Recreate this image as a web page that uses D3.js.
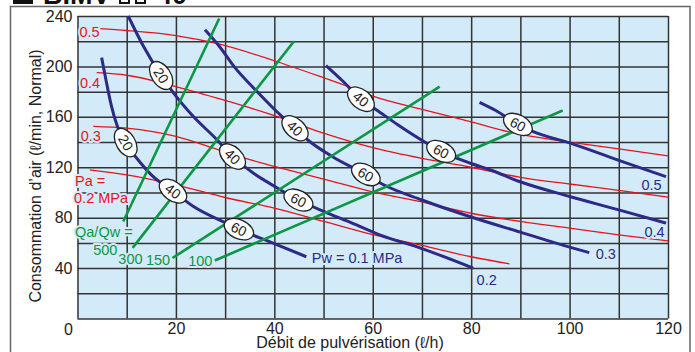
<!DOCTYPE html>
<html lang="fr">
<head>
<meta charset="UTF-8"/>
<title>BIMV – Consommation d'air</title>
<style>
  * { margin:0; padding:0; box-sizing:border-box }
  body { background:#fff; font-family:'Liberation Sans',Arial,sans-serif; }
  svg { display:block; }
  .axis text { font-size:16px; fill:#222; font-family:'Liberation Sans',Arial,sans-serif; }
  .axis line { stroke:#333; stroke-width:1.5; }
  .axis path { stroke:none; }
  .lbl { font-size:14.5px; paint-order:stroke; stroke:#d3ebf9; stroke-width:4; stroke-linejoin:round; }
</style>
</head>
<body>
<svg id="chart" width="695" height="352"></svg>

<script src="https://d3js.org/d3.v7.min.js"></script>
<script>
// ── Air pressure curves Pa (red) : [water flow ℓ/h, air ℓ/min]
const pa05 = [[4.5,230],[10,228.5],[20,224.5],[28.5,218],[40,204.5],[50,191],[55,184],[60,176.5],[70,166],[80,156],[90,146],[100,140],[110,134.5],[120,129]];
const pa04 = [[3.9,195],[10,193],[20,184],[30,173],[40,161],[50,147],[60,135.5],[70,127],[80,120],[90,112],[100,106.7],[110,101.6],[120,96.3]];
const pa03 = [[3.2,152.5],[10,151],[20,144.5],[28.5,134],[35,126],[40,120.7],[50,110.6],[60,100.5],[70,92.5],[80,83.5],[90,77],[100,71.7],[110,66.4],[120,61.6]];
const pa02 = [[2.5,118],[10,114],[20,106],[30,96],[40,87.5],[50,77],[60,66.5],[70,58],[80,49],[87.8,43.3]];

// ── Water pressure curves Pw (blue)
const pw01 = [[4.9,207],[5.9,187],[6.9,168.5],[8.1,152.5],[9.8,139.5],[12.7,124],[15,114],[19.5,100.8],[23.5,89],[30,76],[33,70.5],[39,61],[46.5,49]];
const pw02 = [[10.3,240],[13.4,216],[17.1,192.2],[19.5,179],[23.5,160.4],[28.3,142],[31.5,128.5],[35.5,116],[40,105],[44.9,94],[50,85],[55,77],[61.4,66.4],[70,55.5],[80.4,40]];
const pw03 = [[25.9,229],[29,215],[32,199],[36,182],[40,166],[44.2,151],[47,141],[52,128],[58.5,114.5],[62,106.5],[70,94],[80,80.5],[90,68.5],[100,56.6],[104,52.3]];
const pw04 = [[50.5,200.7],[54,188],[57.6,174],[60.7,165.7],[65,154],[70.9,139.3],[73.9,132.6],[80,123],[83.8,118],[89.8,108.7],[100,96.8],[110,86.2],[119.6,75.7]];
const pw05 = [[81.7,171.5],[85,165],[89.5,154],[92.5,148.5],[100,139.3],[110,125.5],[119.6,112.5]];

// ── Qa/Qw ratio lines (green), end points
const qr500 = [[9.3,77],[28.8,238]];
const qr300 = [[11.2,56],[44,220]];
const qr150 = [[19.3,48],[73.6,184]];
const qr100 = [[27.9,46],[98.6,165]];

// ── Ovals on the Pw curves: [curve, water flow at oval, label]
const ovals = [
  ["0.1",9.8,"20"],["0.1",19.4,"40"],["0.1",32.8,"60"],
  ["0.2",17.0,"20"],["0.2",31.5,"40"],["0.2",44.9,"60"],
  ["0.3",44.2,"40"],["0.3",58.6,"60"],
  ["0.4",57.6,"40"],["0.4",73.9,"60"],
  ["0.5",89.5,"60"]
];

const xTicks = [20,40,60,80,100,120];
const yTicks = [40,80,120,160,200,240];

// ── Setup
const svg = d3.select("#chart");
const x = d3.scaleLinear([0,120],[77.5,668]);
const y = d3.scaleLinear([0,240],[318.5,16]);

const RED = "#e5141c", BLUE = "#2c2a86", GREEN = "#0c9645", BG = "#d3ebf9";

// title (mostly cut off at the top)
svg.append("rect").attr("x",13).attr("y",-16).attr("width",20).attr("height",20).attr("fill","#111");
svg.append("text").attr("x",43).attr("y",4).attr("font-size",27).attr("font-weight","bold").attr("fill","#111").text("BIMV");
[120,136].forEach(v=>svg.append("rect").attr("x",v).attr("y",-16).attr("width",9).attr("height",19)
  .attr("fill","none").attr("stroke","#111").attr("stroke-width",2));
svg.append("text").attr("x",157).attr("y",4).attr("font-size",27).attr("font-weight","bold").attr("fill","#111").text("40");

// outer frame
svg.append("rect").attr("x",10.5).attr("y",6.5).attr("width",679.5).attr("height",400)
  .attr("fill","none").attr("stroke","#666").attr("stroke-width",1.5);

// plot background
svg.append("rect").attr("x",x(0)).attr("y",y(240)).attr("width",x(120)-x(0)).attr("height",y(0)-y(240)).attr("fill",BG);

// grid + tick labels through the axes
svg.append("g").attr("class","axis").attr("transform",`translate(0,${y(0)})`)
  .call(d3.axisBottom(x).tickValues(d3.range(0,121,10)).tickSize(-(y(0)-y(240))).tickPadding(4.5)
    .tickFormat(d => xTicks.includes(d) ? d : ""));
svg.append("g").attr("class","axis").attr("transform",`translate(${x(0)},0)`)
  .call(d3.axisLeft(y).tickValues(d3.range(0,241,20)).tickSize(-(x(120)-x(0))).tickPadding(5)
    .tickFormat(d => yTicks.includes(d) ? d : ""));
svg.append("text").attr("x",x(0)-4.5).attr("y",y(0)+16).attr("text-anchor","end")
  .attr("font-size",16).attr("fill","#222").text("0");

// axis titles
svg.append("text").attr("x",350).attr("y",348).attr("text-anchor","middle")
  .attr("font-size",16).attr("fill","#222").text("Débit de pulvérisation (ℓ/h)");
svg.append("text").attr("transform","translate(40.5,176) rotate(-90)").attr("text-anchor","middle")
  .attr("font-size",16).attr("fill","#222").text("Consommation d’air (ℓ/min, Normal)");

const line = d3.line().x(d=>x(d[0])).y(d=>y(d[1])).curve(d3.curveMonotoneX);
const straight = d3.line().x(d=>x(d[0])).y(d=>y(d[1]));

// red Pa curves
svg.append("g").selectAll("path").data([pa05,pa04,pa03,pa02]).join("path")
  .attr("d",line).attr("fill","none").attr("stroke",RED).attr("stroke-width",1.3);

// blue Pw curves
const pwCurves = {"0.1":pw01,"0.2":pw02,"0.3":pw03,"0.4":pw04,"0.5":pw05};
const pwPaths = {};
Object.entries(pwCurves).forEach(([k,pts])=>{
  pwPaths[k] = svg.append("path").attr("d",line(pts)).attr("fill","none")
    .attr("stroke",BLUE).attr("stroke-width",3).node();
});

// green ratio lines
svg.append("g").selectAll("path").data([qr500,qr300,qr150,qr100]).join("path")
  .attr("d",straight).attr("fill","none").attr("stroke",GREEN).attr("stroke-width",2.6);

// ovals, placed on the curve and turned with it
function pointAtX(node, xv){
  const px = x(xv), L = node.getTotalLength();
  let lo = 0, hi = L;
  for(let i=0;i<40;i++){ const m=(lo+hi)/2; if(node.getPointAtLength(m).x < px) lo=m; else hi=m; }
  const p = node.getPointAtLength(lo),
        a = node.getPointAtLength(Math.max(0,lo-4)),
        b = node.getPointAtLength(Math.min(L,lo+4));
  return {x:p.x, y:p.y, ang:Math.atan2(b.y-a.y,b.x-a.x)*180/Math.PI};
}
ovals.forEach(([k,xv,txt])=>{
  const p = pointAtX(pwPaths[k], xv);
  const g = svg.append("g").attr("transform",`translate(${p.x},${p.y}) rotate(${p.ang})`);
  g.append("ellipse").attr("rx",15.5).attr("ry",9.5).attr("fill","#fff").attr("stroke","#222").attr("stroke-width",1.3);
  g.append("text").attr("text-anchor","middle").attr("dy","0.36em").attr("font-size",14).attr("fill","#222").text(txt);
});

// in-plot labels: [text, x, y (baseline), colour]
const labels = [
  ["0.5",0.4,223.3,RED],["0.4",0.5,183.2,RED],["0.3",0.65,140.7,RED],
  ["Pa =",-0.5,105.3,RED],["0.2 MPa",-0.7,92,RED],
  ["Qa/Qw =",-0.5,65,GREEN],["500",3.2,50.5,GREEN],["300",8.3,42.9,GREEN],
  ["150",13.9,42.5,GREEN],["100",22.5,41.7,GREEN],
  ["Pw = 0.1 MPa",47.6,43.9,BLUE],["0.2",81.1,26.6,BLUE],["0.3",105.3,47,BLUE],
  ["0.4",115.2,65,BLUE],["0.5",114.6,102.1,BLUE]
];
svg.append("g").selectAll("text").data(labels).join("text")
  .attr("class","lbl").attr("x",d=>x(d[1])).attr("y",d=>y(d[2]))
  .attr("fill",d=>d[3]).text(d=>d[0]);
</script>
</body>
</html>
